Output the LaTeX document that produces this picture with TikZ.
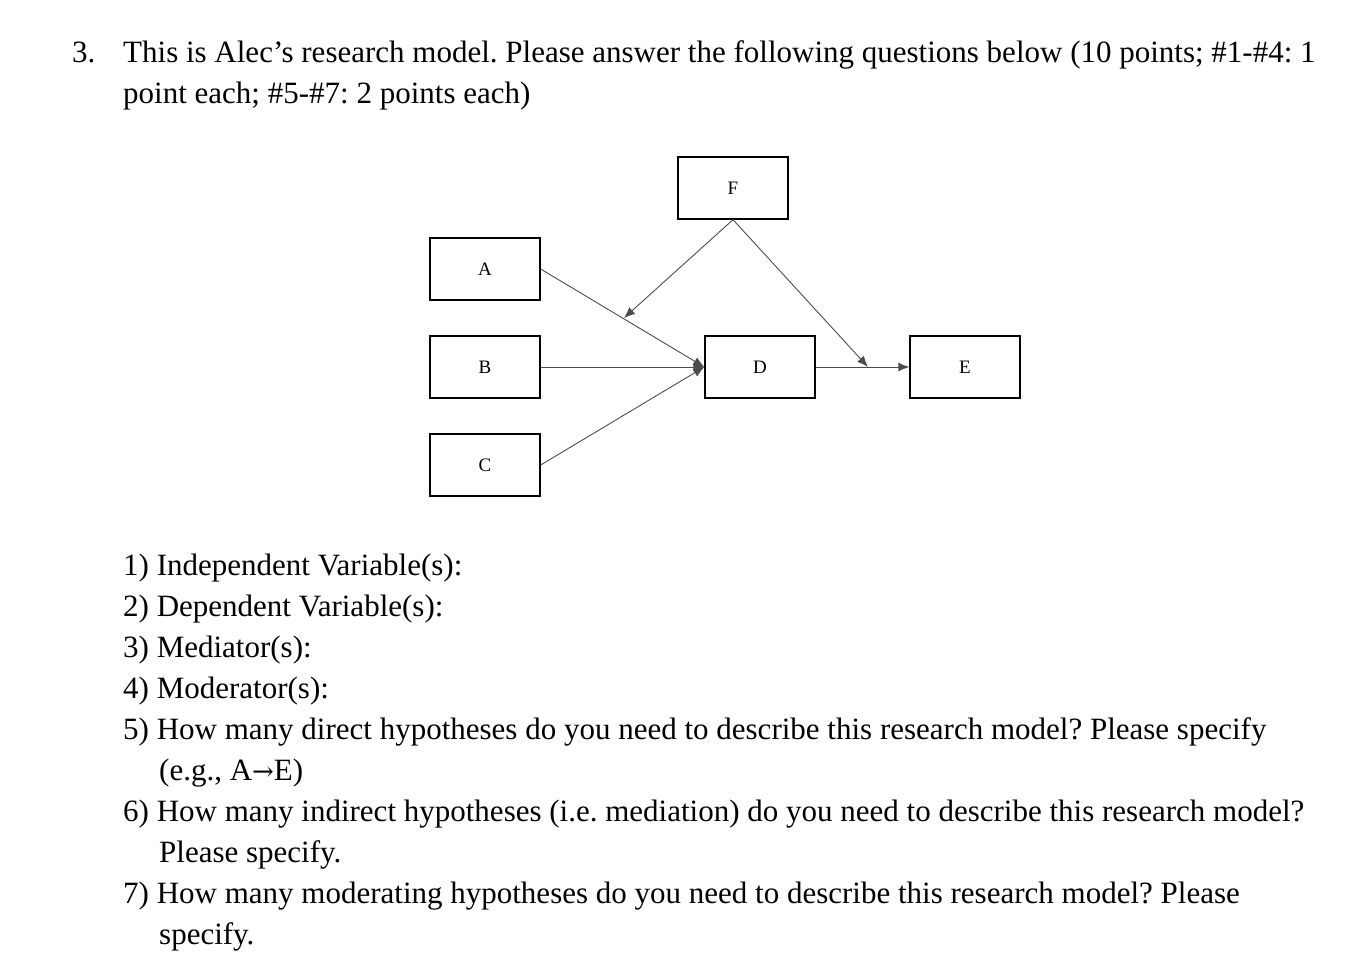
\documentclass[tikz,border=0pt]{standalone}
\usepackage{fontspec}
\setmainfont{Liberation Serif}
\newfontfamily\symf{DejaVu Serif}
\usetikzlibrary{arrows.meta}
\begin{document}
\frenchspacing
\begin{tikzpicture}[x=1pt,y=-1pt,
  box/.style={draw,line width=1.3pt,minimum width=110pt,minimum height=62pt,inner sep=0pt,font=\fontsize{19}{19}\selectfont},
  conn/.style={draw=black!70,line width=0.9pt,-{Latex[length=11pt,width=9pt]}},
  txt/.style={anchor=base west,inner sep=0pt,font=\fontsize{31}{33}\selectfont}]
\useasboundingbox (0,0) rectangle (1354,962);
\node[box] (F) at (733,188) {F};
\node[box] (A) at (485,269) {A};
\node[box] (B) at (485,367) {B};
\node[box] (C) at (485,465) {C};
\node[box] (D) at (760,367) {D};
\node[box] (E) at (965,367) {E};
\coordinate (m1) at (624,318);
\coordinate (m2) at (868,367);
\draw[conn] (A.east) -- (D.west);
\draw[conn] (B.east) -- (D.west);
\draw[conn] (C.east) -- (D.west);
\draw[conn] (F.south) -- (m1);
\draw[conn] (F.south) -- (m2);
\draw[conn] (D.east) -- (E.west);
\node[txt] (t0) at (72,62) {3.};
\node[txt] (t1) at (123,62) {This is Alec’s research model. Please answer the following questions below (10 points; \#1-\#4: 1};
\node[txt] (t2) at (123,103) {point each; \#5-\#7: 2 points each)};
\node[txt] (q1) at (123,575) {1) Independent Variable(s):};
\node[txt] (q2) at (123,616) {2) Dependent Variable(s):};
\node[txt] (q3) at (123,657) {3) Mediator(s):};
\node[txt] (q4) at (123,698) {4) Moderator(s):};
\node[txt] (q5) at (123,739) {5) How many direct hypotheses do you need to describe this research model? Please specify};
\node[txt] (q5b) at (159,780) {(e.g., A{\symf\fontsize{26}{26}\selectfont →}E)};
\node[txt] (q6) at (123,821) {6) How many indirect hypotheses (i.e. mediation) do you need to describe this research model?};
\node[txt] (q6b) at (159,862) {Please specify.};
\node[txt] (q7) at (123,903) {7) How many moderating hypotheses do you need to describe this research model? Please};
\node[txt] (q7b) at (159,944) {specify.};
\end{tikzpicture}
\end{document}
